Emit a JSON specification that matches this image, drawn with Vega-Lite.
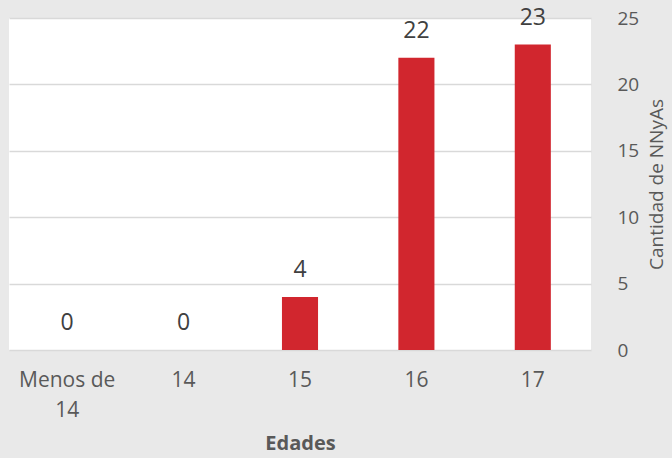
{
  "$schema": "https://vega.github.io/schema/vega-lite/v6.json",
  "autosize": "none",
  "width": 582,
  "height": 332,
  "padding": {"left": 9, "top": 18, "right": 81, "bottom": 108},
  "background": "#e9e9e9",
  "config": {
    "view": {"fill": "#ffffff", "stroke": null},
    "font": "Open Sans"
  },
  "data": {
    "values": [
      {"edad": "Menos de 14", "cantidad": 0},
      {"edad": "14", "cantidad": 0},
      {"edad": "15", "cantidad": 4},
      {"edad": "16", "cantidad": 22},
      {"edad": "17", "cantidad": 23}
    ]
  },
  "encoding": {
    "x": {
      "field": "edad",
      "type": "nominal",
      "sort": null,
      "scale": {"paddingInner": 0, "paddingOuter": 0},
      "axis": {
        "title": "Edades",
        "titleFontSize": 20,
        "titleFontWeight": "bold",
        "titleColor": "#595959",
        "titlePadding": 13,
        "labelAngle": 0,
        "labelFontSize": 21,
        "labelColor": "#595959",
        "labelPadding": 19,
        "labelLineHeight": 30,
        "labelExpr": "datum.label == 'Menos de 14' ? ['Menos de', '14'] : datum.label",
        "ticks": false,
        "domain": false,
        "grid": false
      }
    },
    "y": {
      "field": "cantidad",
      "type": "quantitative",
      "scale": {"domain": [0, 25]},
      "axis": {
        "orient": "right",
        "title": "Cantidad de NNyAs",
        "titleFontSize": 19,
        "titleFontWeight": "normal",
        "titleColor": "#595959",
        "titleAngle": 270,
        "titlePadding": 28,
        "values": [0, 5, 10, 15, 20, 25],
        "labelFontSize": 19,
        "labelColor": "#595959",
        "labelPadding": 26,
        "ticks": false,
        "domain": false,
        "grid": true,
        "gridColor": "#d9d9d9",
        "gridWidth": 1.5
      }
    }
  },
  "layer": [
    {
      "mark": {"type": "bar", "color": "#d1262e", "width": {"band": 0.31}}
    },
    {
      "mark": {"type": "text", "dy": -27, "fontSize": 23, "color": "#404040"},
      "encoding": {"text": {"field": "cantidad", "type": "quantitative"}}
    }
  ]
}
